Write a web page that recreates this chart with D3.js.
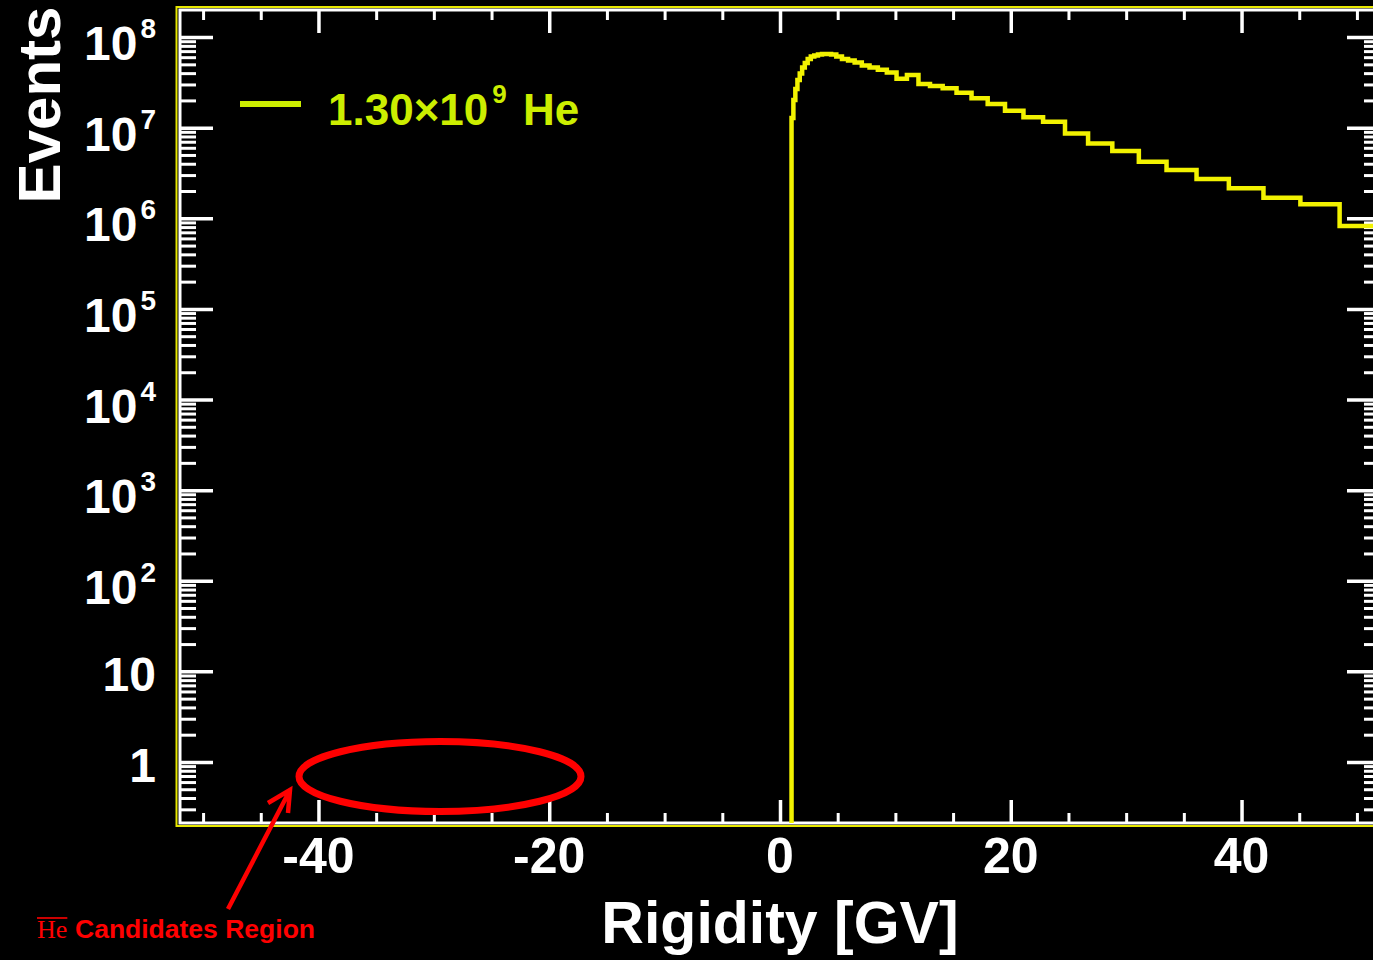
<html>
<head>
<title>Helium rigidity</title>
<script src="https://d3js.org/d3.v7.min.js"></script>
<style>
body { margin: 0; background: black; }
text { font-family: "Liberation Sans", Arial, sans-serif; font-weight: bold; fill: white; }
.tick line { stroke: white; }
</style>
</head>
<body>
<svg id="chart" width="1373" height="960"></svg>
<script>
// AMS rigidity bin edges [GV] and He counts per bin
var binEdges = [1.00, 1.16, 1.33, 1.51, 1.71, 1.92, 2.15, 2.40, 2.67, 2.97, 3.29, 3.64, 4.02, 4.43,
  4.88, 5.37, 5.90, 6.47, 7.09, 7.76, 8.48, 9.26, 10.1, 11.0, 12.0, 13.0, 14.1, 15.3, 16.6, 18.0,
  19.5, 21.1, 22.8, 24.7, 26.7, 28.8, 31.1, 33.5, 36.1, 38.9, 41.9, 45.1, 48.5, 52.2];
var counts = [1.28e7, 2.02e7, 2.67e7, 3.36e7, 3.96e7, 4.61e7, 5.16e7, 5.72e7, 6.09e7, 6.25e7,
  6.41e7, 6.49e7, 6.49e7, 6.41e7, 6.12e7, 5.72e7, 5.50e7, 5.23e7, 4.85e7, 4.61e7, 4.36e7, 4.06e7,
  3.46e7, 3.81e7, 3.03e7, 2.88e7, 2.72e7, 2.43e7, 2.11e7, 1.82e7, 1.54e7, 1.30e7, 1.16e7,
  8.65e6, 6.71e6, 5.52e6, 4.21e6, 3.41e6, 2.71e6, 2.14e6, 1.69e6, 1.43e6, 8.2e5];

var xDomain = [-52, 52];
var yDomain = [0.212, 1.99e8];
var xTicks = [-40, -20, 0, 20, 40];
var xTickLabels = ["-40", "-20", "0", "20", "40"];
var xMinorTicks = [-50, -45, -35, -30, -25, -15, -10, -5, 5, 10, 15, 25, 30, 35, 45, 50];
var yTicks = [1, 10, 1e2, 1e3, 1e4, 1e5, 1e6, 1e7, 1e8];
var yTickBase = ["1", "10", "10", "10", "10", "10", "10", "10", "10"];
var yTickPower = ["", "", "2", "3", "4", "5", "6", "7", "8"];

var svg = d3.select("#chart");
svg.append("rect").attr("width", 1373).attr("height", 960).attr("fill", "black");

var L = 180, R = 1380, T = 10, B = 823;
var x = d3.scaleLinear().domain(xDomain).range([L, R]);
var y = d3.scaleLog().domain(yDomain).range([B, T]);

// minor log ticks 2..9 in each decade
var yMinor = [];
for (var d = -1; d <= 8; d++) {
  for (var k = 2; k <= 9; k++) {
    var v = k * Math.pow(10, d);
    if (v > yDomain[0] && v < yDomain[1]) yMinor.push(v);
  }
}

// frame: yellow outer, white inner
svg.append("rect").attr("x", L - 3.5).attr("y", T - 3).attr("width", 1400).attr("height", B - T + 6)
  .attr("fill", "none").attr("stroke", "#e6e600").attr("stroke-width", 2);
svg.append("rect").attr("x", L).attr("y", T).attr("width", R - L).attr("height", B - T)
  .attr("fill", "none").attr("stroke", "white").attr("stroke-width", 3);

function ticks(axis, tx, ty, w) {
  var g = svg.append("g").attr("transform", "translate(" + tx + "," + ty + ")").call(axis);
  g.select(".domain").remove();
  g.selectAll(".tick line").attr("stroke-width", w);
  g.selectAll(".tick text").remove();
}
ticks(d3.axisRight(y).tickValues(yTicks).tickSize(33), L, 0, 3.5);
ticks(d3.axisRight(y).tickValues(yMinor).tickSize(16), L, 0, 3);
ticks(d3.axisLeft(y).tickValues(yTicks).tickSize(33), R, 0, 3.5);
ticks(d3.axisLeft(y).tickValues(yMinor).tickSize(16), R, 0, 3);
ticks(d3.axisTop(x).tickValues(xTicks).tickSize(23), 0, B, 3.5);
ticks(d3.axisTop(x).tickValues(xMinorTicks).tickSize(10), 0, B, 3);
ticks(d3.axisBottom(x).tickValues(xTicks).tickSize(23), 0, T, 3.5);
ticks(d3.axisBottom(x).tickValues(xMinorTicks).tickSize(10), 0, T, 3);

// histogram
svg.append("clipPath").attr("id", "plot").append("rect")
  .attr("x", L).attr("y", T).attr("width", R - L).attr("height", B - T);
var steps = [{e: binEdges[0], c: yDomain[0] / 2}];
for (var i = 0; i < counts.length; i++) steps.push({e: binEdges[i], c: counts[i]});
steps.push({e: binEdges[binEdges.length - 1], c: counts[counts.length - 1]});
var line = d3.line().x(function(s) { return x(s.e); }).y(function(s) { return y(s.c); })
  .curve(d3.curveStepAfter);
svg.append("path").datum(steps).attr("d", line).attr("clip-path", "url(#plot)")
  .attr("fill", "none").attr("stroke", "#f2f200").attr("stroke-width", 4.5);

// tick labels
svg.selectAll(".xl").data(xTicks).enter().append("text")
  .attr("x", function(d) { return x(d); }).attr("y", 873)
  .attr("text-anchor", "middle").attr("font-size", 50)
  .text(function(d, i) { return xTickLabels[i]; });

yTicks.forEach(function(v, i) {
  var t = svg.append("text").attr("x", 156).attr("text-anchor", "end").attr("font-size", 48);
  if (yTickPower[i] === "") {
    t.attr("y", y(v) + 20).text(yTickBase[i]);
  } else {
    t.attr("y", y(v) + 23);
    t.append("tspan").text(yTickBase[i]);
    t.append("tspan").attr("dy", -22).attr("dx", 3).attr("font-size", 28).text(yTickPower[i]);
  }
});

svg.append("text").attr("transform", "translate(60,105) rotate(-90)")
  .attr("text-anchor", "middle").attr("font-size", 60).text("Events");
svg.append("text").attr("x", 780).attr("y", 943)
  .attr("text-anchor", "middle").attr("font-size", 59).text("Rigidity [GV]");

// legend
svg.append("line").attr("x1", 240).attr("x2", 301).attr("y1", 104).attr("y2", 104)
  .attr("stroke", "#ccee00").attr("stroke-width", 6);
var lg = svg.append("text").attr("x", 328).attr("y", 125).attr("font-size", 44).style("fill", "#ccee00");
lg.append("tspan").text("1.30\u00d710");
lg.append("tspan").attr("dy", -22).attr("dx", 4).attr("font-size", 26).text("9");
lg.append("tspan").attr("dy", 22).attr("dx", 4).attr("font-size", 44).text(" He");

// antihelium candidate region annotation
svg.append("ellipse").attr("cx", 440).attr("cy", 776.5).attr("rx", 141).attr("ry", 35)
  .attr("fill", "none").attr("stroke", "#ff0000").attr("stroke-width", 7);
svg.append("path").attr("d", "M228,909 L289,792 M268,803 L290,790 L288,813")
  .attr("fill", "none").attr("stroke", "#ff0000").attr("stroke-width", 4.5);
var he = svg.append("text").attr("x", 37).attr("y", 938).attr("font-size", 26)
  .style("font-family", "'Liberation Serif', 'Times New Roman', serif").style("font-weight", "normal")
  .style("fill", "#ff0000").text("He");
var bb = he.node().getBBox();
svg.append("line").attr("x1", bb.x).attr("x2", bb.x + bb.width).attr("y1", 918).attr("y2", 918)
  .attr("stroke", "#ff0000").attr("stroke-width", 1.6);
svg.append("text").attr("x", 75).attr("y", 938).attr("font-size", 26.5)
  .style("fill", "#ff0000").text("Candidates Region");
</script>
</body>
</html>
